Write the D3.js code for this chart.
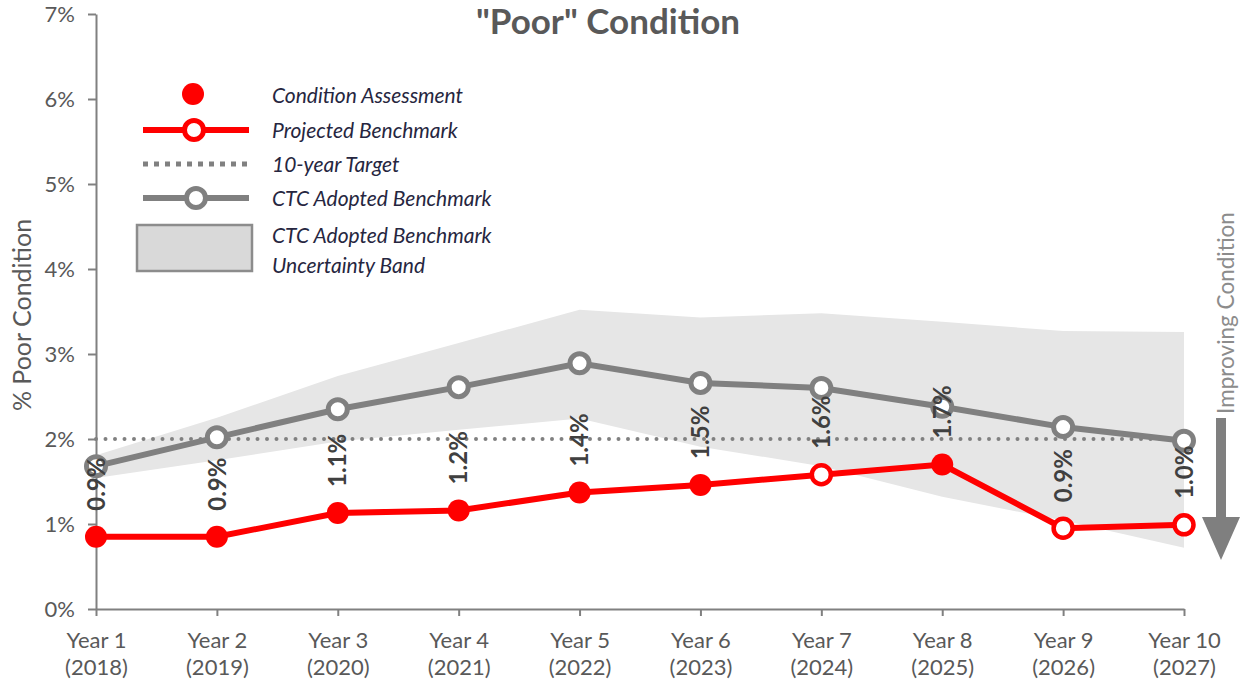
<!DOCTYPE html>
<html>
<head>
<meta charset="utf-8">
<script src="https://cdn.jsdelivr.net/npm/d3@7"></script>
<style>
  html, body { margin: 0; padding: 0; background: #fff; }
  svg { display: block; font-family: Lato, "Open Sans", sans-serif; }
</style>
</head>
<body>
<svg id="chart" width="1243" height="685"></svg>
<script>
// ---------------- data ----------------
const yearLabels = ["Year 1","Year 2","Year 3","Year 4","Year 5","Year 6","Year 7","Year 8","Year 9","Year 10"];
const yearParens = ["(2018)","(2019)","(2020)","(2021)","(2022)","(2023)","(2024)","(2025)","(2026)","(2027)"];
const conditionValues = [0.85, 0.85, 1.13, 1.16, 1.37, 1.46, 1.58, 1.70, 0.95, 0.99];
const markerTypes = ["assessment","assessment","assessment","assessment","assessment","assessment","projected","assessment","projected","projected"];
const valueLabels = ["0.9%","0.9%","1.1%","1.2%","1.4%","1.5%","1.6%","1.7%","0.9%","1.0%"];
const ctcBenchmark = [1.68, 2.02, 2.35, 2.61, 2.89, 2.66, 2.60, 2.38, 2.14, 1.98];
const bandUpper = [1.81, 2.25, 2.74, 3.13, 3.52, 3.43, 3.48, 3.38, 3.27, 3.26];
const bandLower = [1.54, 1.75, 1.97, 2.11, 2.24, 1.91, 1.68, 1.32, 1.04, 0.72];
const targetValue = 2;
const yTicks = [0, 1, 2, 3, 4, 5, 6, 7];
const legendItems = ["Condition Assessment", "Projected Benchmark", "10-year Target", "CTC Adopted Benchmark", "CTC Adopted Benchmark", "Uncertainty Band"];

// ---------------- chart ----------------
const svg = d3.select("#chart");
const RED = "#ff0000", GRAY = "#808080";

const idx = d3.range(yearLabels.length);
const x = d3.scalePoint().domain(idx).range([96, 1184]);
const y = d3.scaleLinear().domain([0, 7]).range([609, 14]);

// Title
svg.append("text")
  .attr("x", 608).attr("y", 34)
  .attr("text-anchor", "middle")
  .attr("font-size", 35).attr("font-weight", "bold")
  .attr("fill", "#595959")
  .text("\"Poor\" Condition");

// Uncertainty band
const area = d3.area()
  .x(i => x(i))
  .y0(i => y(bandLower[i]))
  .y1(i => y(bandUpper[i]));
svg.append("path").datum(idx)
  .attr("d", area)
  .attr("fill", "#e6e6e6");

// Axes
const yAxis = svg.append("g")
  .attr("transform", `translate(${x(0)},0)`)
  .call(d3.axisLeft(y).tickValues(yTicks).tickFormat(d => d + "%").tickSize(8).tickSizeOuter(0).tickPadding(13));
yAxis.select(".domain").attr("stroke", GRAY).attr("stroke-width", 2);
yAxis.selectAll(".tick line").attr("stroke", GRAY).attr("stroke-width", 2);
yAxis.selectAll(".tick text").attr("font-size", 22).attr("fill", "#595959").attr("font-family", "Lato");

const xAxis = svg.append("g")
  .attr("transform", `translate(0,${y(0)})`)
  .call(d3.axisBottom(x).tickSize(7).tickSizeOuter(0).tickFormat(""));
xAxis.select(".domain").attr("stroke", GRAY).attr("stroke-width", 2);
xAxis.selectAll(".tick line").attr("stroke", GRAY).attr("stroke-width", 2);
xAxis.selectAll(".tick text").remove();
xAxis.selectAll(".tick").each(function(i) {
  const t = d3.select(this).append("text")
    .attr("text-anchor", "middle")
    .attr("font-size", 22).attr("fill", "#595959").attr("font-family", "Lato");
  t.append("tspan").attr("x", 0).attr("y", 39).text(yearLabels[i]);
  t.append("tspan").attr("x", 0).attr("y", 66).text(yearParens[i]);
});

// Y axis title
svg.append("text")
  .attr("transform", `translate(31,315) rotate(-90)`)
  .attr("text-anchor", "middle")
  .attr("font-size", 25).attr("fill", "#595959")
  .text("% Poor Condition");

// Target dotted line
svg.append("line")
  .attr("x1", x(0)).attr("x2", x(idx.length - 1))
  .attr("y1", y(targetValue)).attr("y2", y(targetValue))
  .attr("stroke", GRAY).attr("stroke-width", 4)
  .attr("stroke-linecap", "round")
  .attr("stroke-dasharray", "0,9.5");

// CTC benchmark line
const lineGen = arr => d3.line().x(i => x(i)).y(i => y(arr[i]));
svg.append("path").datum(idx)
  .attr("d", lineGen(ctcBenchmark))
  .attr("fill", "none").attr("stroke", GRAY).attr("stroke-width", 6);
svg.selectAll(".ctcm").data(idx).enter().append("circle")
  .attr("cx", i => x(i)).attr("cy", i => y(ctcBenchmark[i]))
  .attr("r", 9.5).attr("fill", "#fff").attr("stroke", GRAY).attr("stroke-width", 5);

// Condition line
svg.append("path").datum(idx)
  .attr("d", lineGen(conditionValues))
  .attr("fill", "none").attr("stroke", RED).attr("stroke-width", 6);
svg.selectAll(".condm").data(idx).enter().append("circle")
  .attr("cx", i => x(i)).attr("cy", i => y(conditionValues[i]))
  .attr("r", i => markerTypes[i] === "assessment" ? 11 : 9.5)
  .attr("fill", i => markerTypes[i] === "assessment" ? RED : "#fff")
  .attr("stroke", RED)
  .attr("stroke-width", i => markerTypes[i] === "assessment" ? 0 : 4.5);

// Value labels
svg.selectAll(".vlab").data(idx).enter().append("text")
  .attr("transform", i => `translate(${x(i)},${y(conditionValues[i]) - 26}) rotate(-90)`)
  .attr("dy", "0.36em")
  .attr("text-anchor", "start")
  .attr("font-size", 24).attr("font-weight", "bold").attr("fill", "#404040")
  .text(i => valueLabels[i]);

// Improving condition arrow
const ax = 1221;
svg.append("path")
  .attr("d", `M${ax - 5},418 L${ax + 5},418 L${ax + 5},517 L${ax + 19},517 L${ax},560 L${ax - 19},517 L${ax - 5},517 Z`)
  .attr("fill", "#7f7f7f");
svg.append("text")
  .attr("transform", `translate(1226,313) rotate(-90)`)
  .attr("text-anchor", "middle").attr("dy", "0.36em")
  .attr("font-size", 22.5).attr("fill", "#8c8c8c")
  .text("Improving Condition");

// Legend
const lg = svg.append("g");
lg.append("circle").attr("cx", 193).attr("cy", 94).attr("r", 11).attr("fill", RED);
lg.append("line").attr("x1", 143).attr("x2", 249).attr("y1", 130).attr("y2", 130)
  .attr("stroke", RED).attr("stroke-width", 6);
lg.append("circle").attr("cx", 194).attr("cy", 130).attr("r", 9.5)
  .attr("fill", "#fff").attr("stroke", RED).attr("stroke-width", 5);
lg.append("line").attr("x1", 143).attr("x2", 249).attr("y1", 164).attr("y2", 164)
  .attr("stroke", GRAY).attr("stroke-width", 5).attr("stroke-dasharray", "5,6");
lg.append("line").attr("x1", 143).attr("x2", 249).attr("y1", 198).attr("y2", 198)
  .attr("stroke", GRAY).attr("stroke-width", 6);
lg.append("circle").attr("cx", 196).attr("cy", 198).attr("r", 9.5)
  .attr("fill", "#fff").attr("stroke", GRAY).attr("stroke-width", 5);
lg.append("rect").attr("x", 137).attr("y", 225).attr("width", 115).attr("height", 46)
  .attr("fill", "#d9d9d9").attr("stroke", "#8c8c8c").attr("stroke-width", 2.5);
const legendY = [95, 130, 164, 198, 235, 265];
lg.selectAll(".lt").data(legendItems).enter().append("text")
  .attr("x", 272).attr("y", (d, i) => legendY[i]).attr("dy", "0.36em")
  .attr("font-size", 21).attr("font-style", "italic").attr("fill", "#262640")
  .text(d => d);
</script>
</body>
</html>
